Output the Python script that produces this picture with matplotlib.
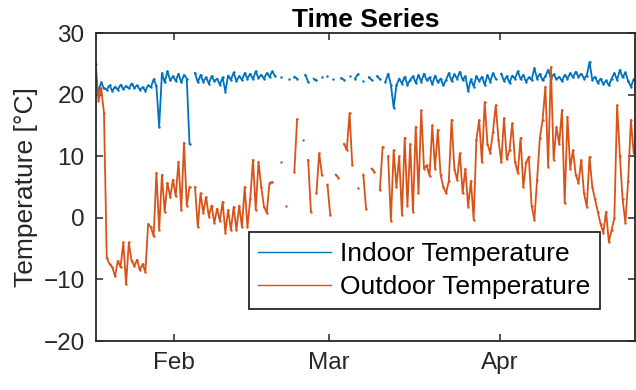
import numpy as np
import pandas as pd
import matplotlib
matplotlib.use("Agg")
import matplotlib.pyplot as plt
import matplotlib.dates as mdates

# -----------------------------
# DATA (half-day samples; nan = no reading)
# -----------------------------
nan = np.nan
start_time = "2015-01-17 18:00"
step = "12h"

indoor_temp = [
    22.4, 20.5, 22.0, 21.0, 20.8, 21.5, 20.6, 21.3, 20.8, 21.6,
    20.9, 21.4, 21.0, 21.8, 21.1, 21.5, 20.8, 21.2, 20.6, 21.5,
    21.2, 22.5, 21.4, 14.8, 23.5, 22.0, 23.8, 22.3, 23.0, 22.2,
    23.4, 22.0, 23.2, 22.6, 12.0, nan, 23.5, 22.0, 23.2, 22.1,
    22.8, 21.8, 23.0, 22.2, 22.6, 21.6, 22.8, 20.5, 23.1, 22.4,
    23.6, 22.2, 23.0, 22.4, 23.5, 22.6, 23.4, 22.5, 23.8, 22.7,
    23.2, 22.6, 23.5, 22.9, 23.8, 23.0, nan, 22.8, nan, nan,
    22.5, nan, 22.9, 22.6, nan, nan, 23.2, 22.1, nan, 22.6,
    22.3, nan, 22.8, nan, 23.1, nan, 22.5, nan, nan, 22.7,
    22.4, nan, 23.0, nan, 22.6, 23.3, nan, 22.2, nan, 22.8,
    22.4, nan, 23.0, 22.5, nan, 22.1, 23.4, 21.6, 17.9, 21.5,
    22.6, 21.8, 22.9, 21.6, 22.4, 23.0, 21.9, 23.2, 22.1, 23.4,
    22.3, 22.8, 21.7, 23.1, 22.0, 22.6, 21.5, 22.4, 23.5, 22.2,
    23.3, 22.6, 23.7, 22.4, 23.0, 20.6, 22.5, 21.3, 23.0, 22.2,
    22.9, 21.6, 23.2, 22.1, 23.5, 22.6, nan, 23.4, 22.2, 23.0,
    21.9, 23.1, 22.6, 23.8, 22.5, 23.2, 22.1, 22.8, 22.4, 24.3,
    22.6, 23.4, 22.3, 23.0, 24.0, 22.7, 23.3, 22.5, 22.9, 22.2,
    23.2, 22.6, 23.5, 22.8, 23.7, 22.9, 23.4, 22.6, 23.1, 25.3,
    22.4, 22.9, 21.9, 22.6, 21.7, 22.3, 21.5, 22.6, 23.5, 22.4,
    24.0, 22.8, 23.6, 22.2, 21.3, 22.5,
]

outdoor_temp = [
    25.0, 19.0, 21.0, 17.0, -6.5, -7.5, -8.0, -9.5, -7.0, -8.0,
    -4.0, -10.8, -4.0, -7.0, -7.8, -6.8, -8.5, -7.5, -8.8, -1.0,
    -1.5, -3.0, 7.3, -2.0, 7.0, 1.0, 5.7, 3.3, 6.2, 3.5,
    9.1, 1.3, 12.2, 2.0, 5.0, nan, 5.0, -1.5, 4.0, 0.8,
    3.4, 0.2, 2.0, -0.8, 1.5, -0.5, 2.6, -2.4, 1.3, -2.0,
    1.8, -2.0, 2.0, -1.5, 5.0, -1.5, 3.0, 9.4, 1.3, 9.1,
    5.0, 1.8, 0.8, 5.7, 5.8, nan, nan, 9.0, nan, 2.0,
    nan, nan, 7.5, 16.0, nan, 12.7, nan, 9.4, 1.0, nan,
    4.0, 10.5, 7.0, nan, 5.4, 0.5, nan, 7.0, 6.5, nan,
    12.0, 11.0, 17.0, 8.6, nan, 4.8, nan, 7.0, 1.5, nan,
    8.0, 7.5, nan, 4.5, 11.5, nan, 10.0, -0.5, 11.0, 5.0,
    10.0, 0.5, 13.0, 2.0, 12.0, 1.0, 14.8, 4.0, 17.5, 8.0,
    8.5, 6.8, 15.0, 8.0, 14.3, 7.0, 5.0, 4.0, 6.0, 15.9,
    8.0, 6.2, 10.5, 4.0, 8.0, 1.8, 6.0, -0.3, 12.7, 15.9,
    9.0, 18.8, 12.0, 10.5, 14.0, 18.3, 12.7, 9.0, 16.2, 9.5,
    11.0, 15.4, 9.0, 7.3, 13.0, 5.0, 9.0, 9.9, 2.0, -0.3,
    6.2, 13.0, 15.9, 21.3, 8.3, 24.5, 9.4, 14.8, 12.0, 17.5,
    2.4, 16.4, 8.0, 11.0, 7.0, 5.7, 9.4, 4.0, 1.8, 9.9,
    5.0, 3.0, 1.0, -1.0, -2.4, 1.0, -3.9, -2.0, 0.0, 18.3,
    10.0, 3.0, -0.8, 6.0, 15.9, 10.5,
]

times = pd.date_range(start_time, periods=len(outdoor_temp), freq=step)

# -----------------------------
# PLOT
# -----------------------------
plt.rcParams["font.family"] = ["Liberation Sans", "DejaVu Sans"]
fig = plt.figure(figsize=(6.36, 3.90), dpi=100)
ax = fig.add_axes([0.1505, 0.1256, 0.848, 0.7897])

ax.plot(times, indoor_temp, color="#0072BD", lw=1.3, marker=".", ms=1.5,
        label="Indoor Temperature")
ax.plot(times, outdoor_temp, color="#D95319", lw=1.3, marker=".", ms=1.5,
        label="Outdoor Temperature")

ax.set_xlim(pd.Timestamp("2015-01-17 18:00"), pd.Timestamp("2015-04-25 12:00"))
ax.set_ylim(-20, 30)
ax.set_yticks([-20, -10, 0, 10, 20, 30])
ax.xaxis.set_major_locator(mdates.MonthLocator())
ax.xaxis.set_major_formatter(mdates.DateFormatter("%b"))

ax.set_ylabel("Temperature [°C]", fontsize=19, color="#262626")
ax.set_title("Time Series", fontsize=19, fontweight="bold", pad=4)

for s in ax.spines.values():
    s.set_color("#262626")
    s.set_linewidth(1.3)
ax.tick_params(direction="in", top=True, right=True, length=5, width=1.1,
               labelsize=17.5, colors="#262626", pad=8)

leg = ax.legend(loc="lower left", bbox_to_anchor=(0.284, 0.104), fontsize=19,
                frameon=True, fancybox=False, framealpha=1, edgecolor="#262626",
                handlelength=2.75, handletextpad=0.35, borderpad=0.36,
                labelspacing=0.36, borderaxespad=0)
leg.get_frame().set_linewidth(1.3)
for ln in leg.get_lines():
    ln.set_linewidth(1.0)
    ln.set_marker("")

fig.savefig("out.png", dpi=100)
